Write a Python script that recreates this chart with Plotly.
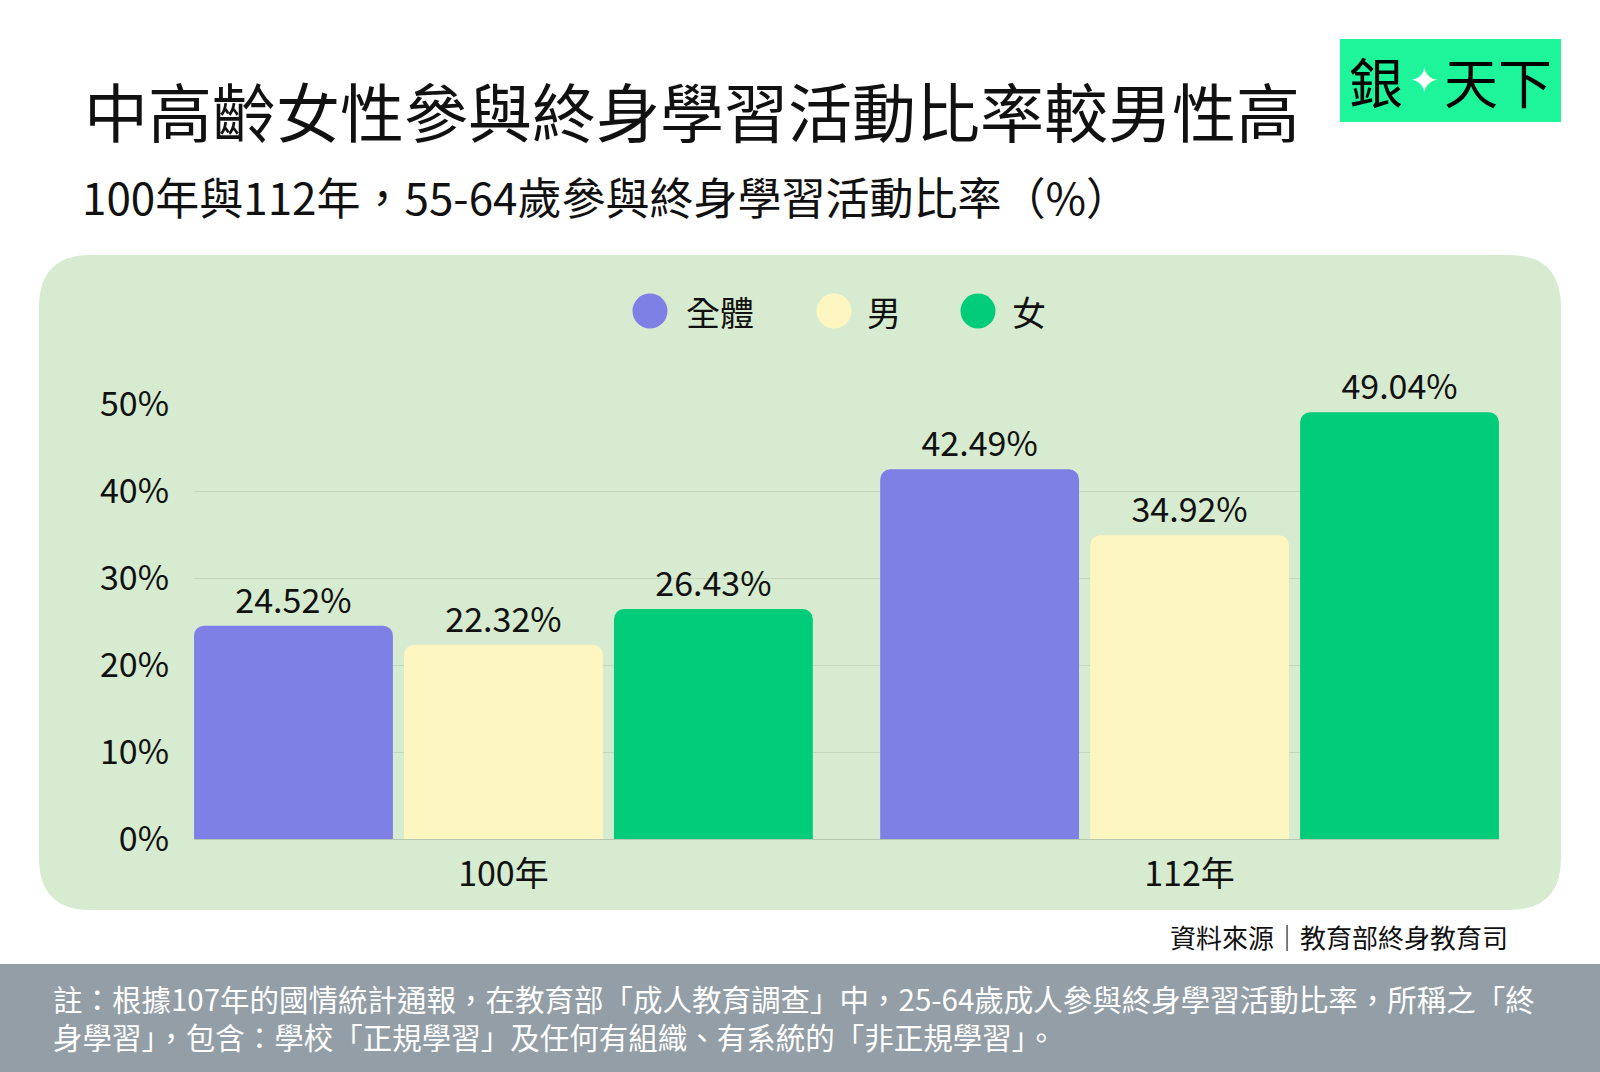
import plotly.graph_objects as go

W, H = 1600, 1072

categories = ["100年", "112年"]
series_names = ["全體", "男", "女"]
total_vals = [24.52, 42.49]
male_vals = [22.32, 34.92]
female_vals = [26.43, 49.04]
series_colors = ["#7f80e6", "#fdf6c1", "#00cc7a"]
y_ticks = [0, 10, 20, 30, 40, 50]
y_tick_labels = ["0%", "10%", "20%", "30%", "40%", "50%"]

FONT = "Noto Sans CJK TC"
TXT = "#111111"

def px(x):
    return x / W

def py(y):
    return 1 - y / H

fig = go.Figure()
for name, vals, col in zip(series_names, [total_vals, male_vals, female_vals], series_colors):
    fig.add_trace(go.Bar(
        x=categories, y=vals, name=name,
        marker=dict(color=col, line=dict(width=0), cornerradius=10),
        texttemplate="%{y:.2f}%", textposition="outside",
        textfont=dict(family=FONT, size=34, color=TXT),
        cliponaxis=False, constraintext="none", showlegend=False,
    ))

shapes = []
# rounded panel
x0, x1, y0, y1 = 39, 1561, 255, 910
r = 52
rx, ry = r / W, r / H
X0, X1, Y0, Y1 = px(x0), px(x1), py(y1), py(y0)
path = (f"M {X0+rx},{Y1} L {X1-rx},{Y1} Q {X1},{Y1} {X1},{Y1-ry} "
        f"L {X1},{Y0+ry} Q {X1},{Y0} {X1-rx},{Y0} L {X0+rx},{Y0} "
        f"Q {X0},{Y0} {X0},{Y0+ry} L {X0},{Y1-ry} Q {X0},{Y1} {X0+rx},{Y1} Z")
shapes.append(dict(type="path", xref="paper", yref="paper", path=path,
                   fillcolor="#d6ebcf", line=dict(width=0), layer="below"))
# bottom band
shapes.append(dict(type="rect", xref="paper", yref="paper", x0=0, x1=1, y0=0, y1=py(964),
                   fillcolor="#939ea6", line=dict(width=0), layer="below"))
# logo box
shapes.append(dict(type="rect", xref="paper", yref="paper", x0=px(1340), x1=px(1561),
                   y0=py(122), y1=py(39), fillcolor="#1ef59b", line=dict(width=0), layer="below"))

annotations = []
# legend
leg_cx = [650, 834, 978]
leg_tx = [684, 865, 1010]
for name, col, cx, tx in zip(series_names, series_colors, leg_cx, leg_tx):
    shapes.append(dict(type="circle", xref="paper", yref="paper",
                       xsizemode="pixel", ysizemode="pixel",
                       xanchor=px(cx), yanchor=py(311),
                       x0=-17.5, x1=17.5, y0=-17.5, y1=17.5,
                       fillcolor=col, line=dict(width=0)))
    annotations.append(dict(text=name, x=px(tx), y=py(311), xref="paper", yref="paper",
                            xanchor="left", yanchor="middle", showarrow=False,
                            font=dict(family=FONT, size=34, color=TXT)))

# title & subtitle
annotations.append(dict(text="中高齡女性參與終身學習活動比率較男性高", x=px(82), y=py(109),
                        xref="paper", yref="paper", xanchor="left", yanchor="middle",
                        showarrow=False, font=dict(family=FONT, size=64, color=TXT)))
annotations.append(dict(text="100年與112年，55-64歲參與終身學習活動比率（%）", x=px(80), y=py(196),
                        xref="paper", yref="paper", xanchor="left", yanchor="middle",
                        showarrow=False, font=dict(family=FONT, size=44, color=TXT)))
# logo text
annotations.append(dict(text="銀", x=px(1376), y=py(80), xref="paper", yref="paper",
                        xanchor="center", yanchor="middle", showarrow=False, borderpad=0,
                        font=dict(family=FONT, size=54, color="#000")))
annotations.append(dict(text="✦", x=px(1424), y=py(80), xref="paper", yref="paper",
                        xanchor="center", yanchor="middle", showarrow=False, borderpad=0,
                        font=dict(family="DejaVu Sans", size=36, color="#ffffff")))
annotations.append(dict(text="天下", x=px(1498), y=py(80), xref="paper", yref="paper",
                        xanchor="center", yanchor="middle", showarrow=False, borderpad=0,
                        font=dict(family=FONT, size=54, color="#000")))
# source
annotations.append(dict(text="資料來源｜教育部終身教育司", x=px(1510), y=py(936),
                        xref="paper", yref="paper", xanchor="right", yanchor="middle",
                        showarrow=False, font=dict(family=FONT, size=26, color=TXT)))
# note
annotations.append(dict(
    text="註：根據107年的國情統計通報，在教育部「成人教育調查」中，25-64歲成人參與終身學習活動比率，所稱之「終<br>身學習」，包含：學校「正規學習」及任何有組織、有系統的「非正規學習」。",
    x=px(51), y=py(1017), xref="paper", yref="paper", xanchor="left", yanchor="middle",
    align="left", showarrow=False, font=dict(family=FONT, size=29.5, color="#ffffff")))

fig.update_layout(
    width=W, height=H,
    margin=dict(l=0, r=0, t=0, b=0, pad=0, autoexpand=False),
    paper_bgcolor="#ffffff", plot_bgcolor="rgba(0,0,0,0)",
    barmode="group", bargap=0.082, bargroupgap=0.053,
    shapes=shapes, annotations=annotations, showlegend=False,
    font=dict(family=FONT, color=TXT),
    xaxis=dict(domain=[px(194), px(1499)], range=[-0.451, 1.451], showgrid=False,
               showline=False, zeroline=False, ticks="", automargin=False,
               tickfont=dict(family=FONT, size=34, color=TXT), ticklabelstandoff=12),
    yaxis=dict(domain=[py(839), py(404)], range=[0, 50], tickvals=y_ticks, ticktext=y_tick_labels,
               showgrid=True, gridcolor="#c3d8bc", gridwidth=1, zeroline=True, automargin=False,
               zerolinecolor="#b5c7ae", zerolinewidth=1, showline=False, ticks="",
               tickfont=dict(family=FONT, size=34, color=TXT), ticklabelstandoff=24),
)

fig.write_html("out.html")
